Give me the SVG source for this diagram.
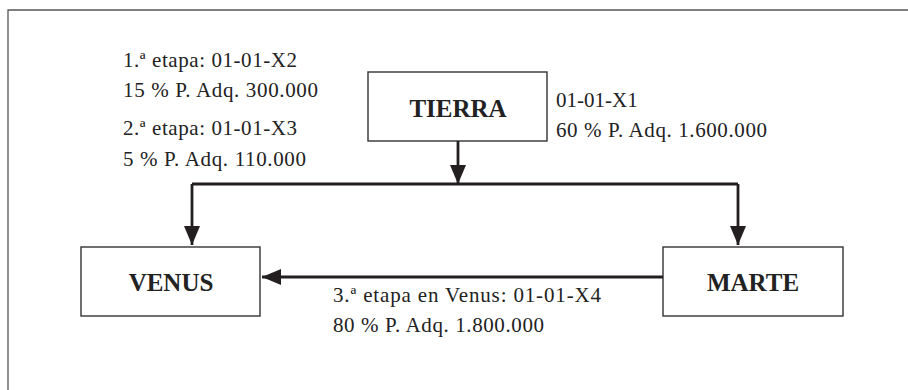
<svg xmlns="http://www.w3.org/2000/svg" width="908" height="390" viewBox="0 0 908 390">
  <style>
    .frame { fill: none; stroke: #555; stroke-width: 1.3; }
    .box { fill: #fff; stroke: #333; stroke-width: 1.4; }
    .title { font-family: 'Liberation Serif', 'Times New Roman', serif; font-weight: 700; font-size: 25px; fill: #222; text-anchor: middle; }
    .note { font-family: 'Liberation Serif', 'Times New Roman', serif; font-weight: 400; font-size: 21px; fill: #222; }
    .link { fill: none; stroke: #231f20; stroke-width: 2.8; }
  </style>
  <defs>
    <marker id="arrow" markerUnits="userSpaceOnUse" markerWidth="22" markerHeight="18" refX="19" refY="8" orient="auto">
      <path d="M0,0 L19,8 L0,16 Z" fill="#231f20"/>
    </marker>
  </defs>

  <!-- open frame: top and left edges only -->
  <path class="frame" d="M8,390 V10 H908"/>

  <g id="tierra">
    <rect class="box" x="368" y="72" width="179" height="69"/>
    <text class="title" x="458" y="117">TIERRA</text>
  </g>

  <g id="venus">
    <rect class="box" x="81" y="247" width="179" height="69"/>
    <text class="title" x="171" y="291">VENUS</text>
  </g>

  <g id="marte">
    <rect class="box" x="663" y="247" width="180" height="69"/>
    <text class="title" x="753" y="291">MARTE</text>
  </g>

  <g id="connectors">
    <path class="link" d="M458,141 V184" marker-end="url(#arrow)"/>
    <path class="link" d="M192,184 H738"/>
    <path class="link" d="M192,184 V245" marker-end="url(#arrow)"/>
    <path class="link" d="M738,184 V245" marker-end="url(#arrow)"/>
    <path class="link" d="M663,277 H262" marker-end="url(#arrow)"/>
  </g>

  <g id="labels">
    <text class="note" x="123" y="67" textLength="174">1.ª etapa: 01-01-X2</text>
    <text class="note" x="123" y="97" textLength="195">15 % P. Adq. 300.000</text>
    <text class="note" x="123" y="135" textLength="174">2.ª etapa: 01-01-X3</text>
    <text class="note" x="123" y="166" textLength="183">5 % P. Adq. 110.000</text>
    <text class="note" x="556" y="107">01-01-X1</text>
    <text class="note" x="556" y="137" textLength="211">60 % P. Adq. 1.600.000</text>
    <text class="note" x="333" y="302" textLength="268">3.ª etapa en Venus: 01-01-X4</text>
    <text class="note" x="333" y="332" textLength="211">80 % P. Adq. 1.800.000</text>
  </g>
</svg>
